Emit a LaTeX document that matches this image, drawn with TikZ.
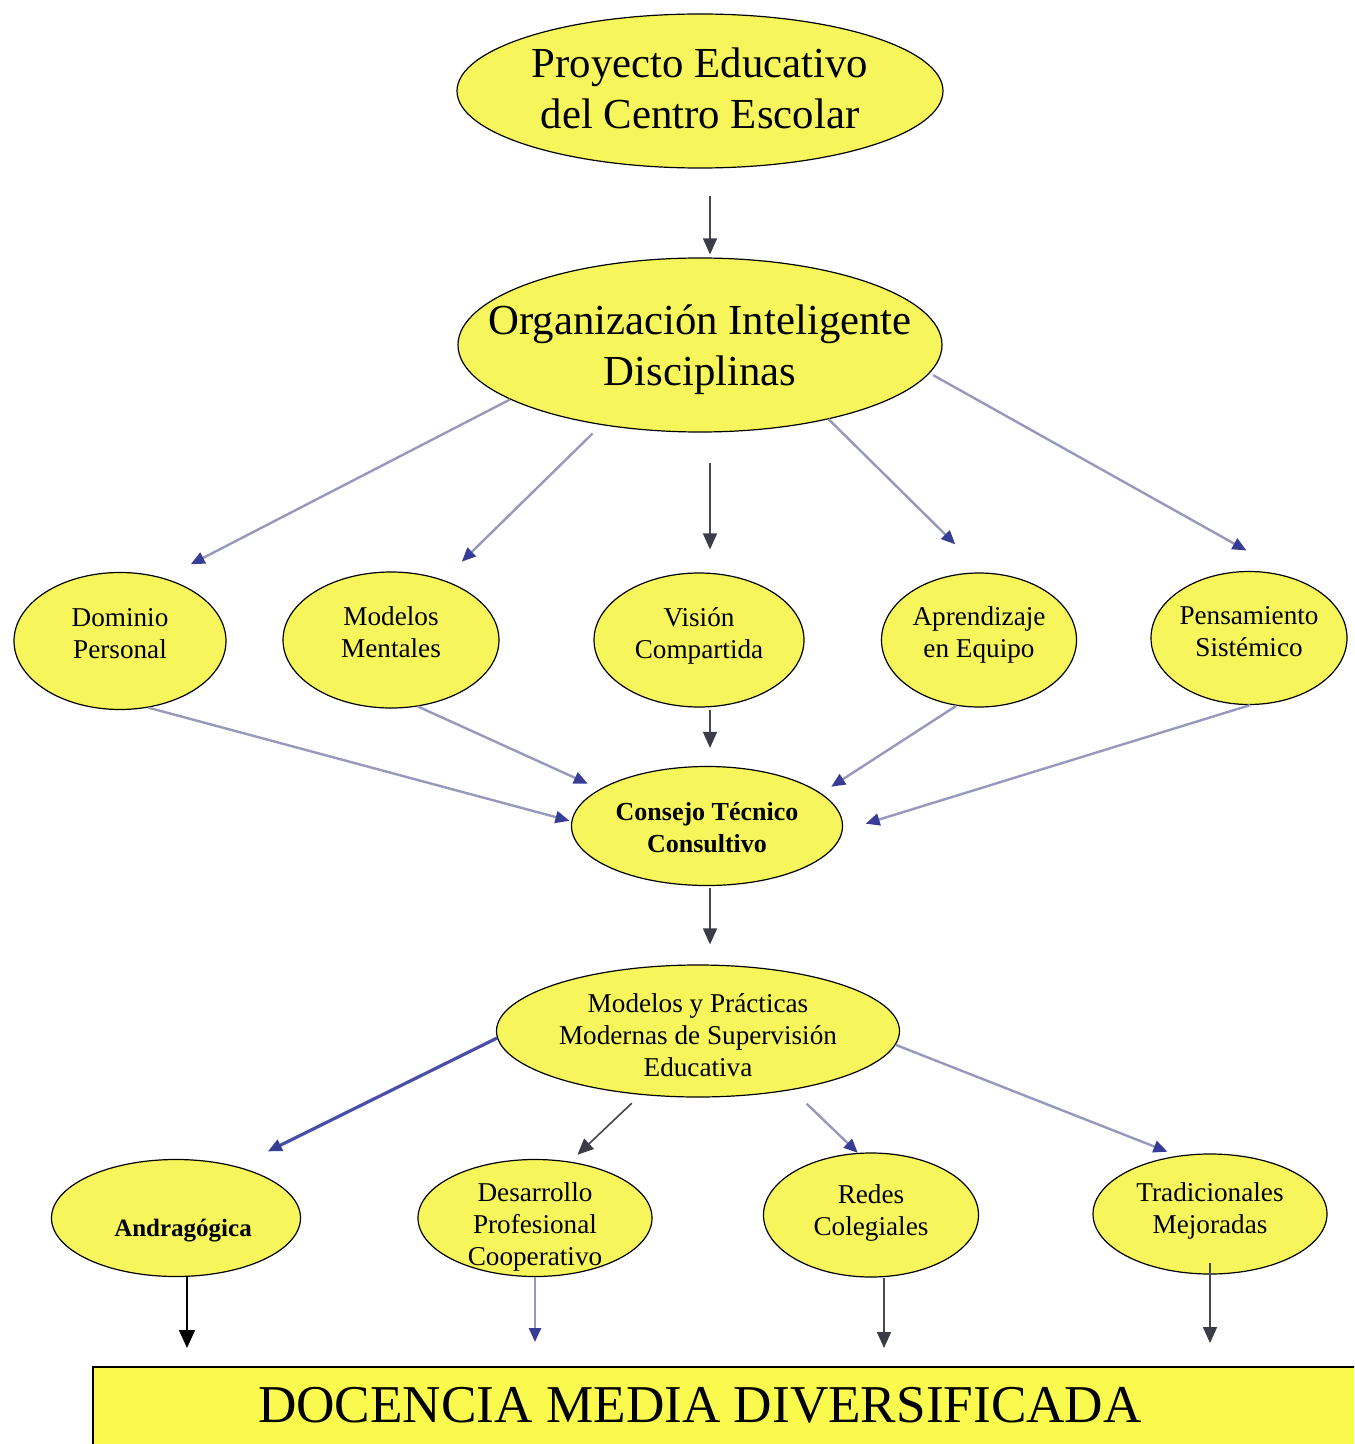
\documentclass[tikz,border=0pt]{standalone}
\usepackage{fontspec}
\setmainfont{Liberation Serif}
\usepackage{tikz}
\usetikzlibrary{calc,shapes.geometric,arrows.meta}
\definecolor{nodeyellow}{RGB}{246,246,92}
\definecolor{boxyellow}{RGB}{250,250,78}
\definecolor{linkgray}{RGB}{150,152,188}
\definecolor{headblue}{RGB}{55,60,150}
\definecolor{strongblue}{RGB}{72,78,170}
\definecolor{darkline}{RGB}{70,70,80}
\definecolor{darkhead}{RGB}{58,60,72}
% text of an ellipse, kept out of the shape size
\newcommand{\elltext}[2][0pt]{\smash{\makebox[0pt]{\raisebox{#1}{\begin{tabular}{@{}c@{}}#2\end{tabular}}}}}
\tikzset{
% yellow ellipse for every concept
ell/.style={ellipse,draw=black,line width=0.6pt,fill=nodeyellow,inner sep=0pt},
big text/.style={font=\fontsize{21.4pt}{25.5pt}\selectfont},
mid text/.style={font=\fontsize{13.6pt}{16pt}\selectfont},
% connectors: pale line with blue tip, or dark line with dark tip
blue link/.style={draw=linkgray,line width=1.2pt,-{Triangle[length=7pt,width=6pt,color=headblue]}},
dark link/.style={draw=darkline,line width=0.8pt,-{Triangle[length=8pt,width=7pt,color=darkhead]}}
}

\begin{document}
\begin{tikzpicture}[x=0.5pt,y=-0.5pt]
      \useasboundingbox (0,0) rectangle (1354,1444);
      \clip (0,0) rectangle (1354,1444);
      % Top of the chart
      \node(proj)[ell,big text,minimum width=243pt,minimum height=77pt] at (700,91)
        {\elltext[-6pt]{Proyecto Educativo\\del Centro Escolar}};
      \node(org)[ell,big text,minimum width=242pt,minimum height=87pt] at (700,345)
        {\elltext[-7.5pt]{Organización Inteligente\\Disciplinas}};
      % The five disciplines
      \node(dom)[ell,mid text,minimum width=106pt,minimum height=68.5pt] at (120,641)
        {\elltext[-1pt]{Dominio\\Personal}};
      \node(mod)[ell,mid text,minimum width=108pt,minimum height=68pt] at (391,640)
        {\elltext[-1pt]{Modelos\\Mentales}};
      \node(vis)[ell,mid text,minimum width=105pt,minimum height=67pt] at (699,640)
        {\elltext[-1.5pt]{Visión\\Compartida}};
      \node(apr)[ell,mid text,minimum width=97.5pt,minimum height=67pt] at (979,640)
        {\elltext[-1pt]{Aprendizaje\\en Equipo}};
      \node(pen)[ell,mid text,minimum width=98pt,minimum height=66.5pt] at (1249,638)
        {\elltext[-1.5pt]{Pensamiento\\Sistémico}};
      % Council and supervision
      \node(con)[ell,mid text,minimum width=135.5pt,minimum height=59.5pt] at (707,826)
        {\elltext[-5.5pt]{\bfseries\fontsize{13pt}{15.5pt}\selectfont Consejo Técnico\\
          \bfseries\fontsize{13pt}{15.5pt}\selectfont Consultivo}};
      \node(mp)[ell,mid text,minimum width=201.5pt,minimum height=66pt] at (698,1031)
        {\elltext[-7pt]{Modelos y Prácticas\\Modernas de Supervisión\\Educativa}};
      % The four models
      \node(andr)[ell,mid text,minimum width=124.5pt,minimum height=58.5pt] at (176,1218)
        {\elltext[-9.5pt]{\hspace*{7pt}\bfseries\fontsize{12.5pt}{15pt}\selectfont Andragógica}};
      \node(des)[ell,mid text,minimum width=117pt,minimum height=58.5pt] at (535,1218)
        {\elltext[-8pt]{Desarrollo\\Profesional\\Cooperativo}};
      \node(red)[ell,mid text,minimum width=107.5pt,minimum height=62pt] at (871,1215)
        {\elltext[-2.5pt]{Redes\\Colegiales}};
      \node(tra)[ell,mid text,minimum width=117pt,minimum height=60pt] at (1210,1214)
        {\elltext[-2pt]{Tradicionales\\Mejoradas}};
      % Bottom band
      \node(doc)[draw=black,line width=0.8pt,fill=boxyellow,anchor=north west,
        minimum width=650pt,minimum height=45pt] at (92,1366) {};
      \node(doctext)[font=\fontsize{26.6pt}{30pt}\selectfont,anchor=base] at (700,1422)
        {DOCENCIA MEDIA DIVERSIFICADA};
      % Connectors
      \draw[dark link,shorten <=13.5pt,shorten >=1.5pt] ([xshift=5pt]proj.south) -- ([xshift=5pt]org.north);
      \draw[blue link,shorten >=15pt] (org.196) -- (dom.55);
      \draw[blue link,shorten <=6pt,shorten >=13pt] (org.219) -- (mod.49);
      \draw[dark link,shorten <=15pt,shorten >=11.5pt] ([xshift=5pt]org.south) -- ([xshift=5.5pt]vis.north);
      \draw[blue link,shorten >=20pt] (org.330) -- (apr.86);
      \draw[blue link,shorten <=2pt,shorten >=31pt] (org.353) -- (pen.48);
      \draw[blue link,shorten >=1pt] (dom.293) -- (con.178);
      \draw[blue link,shorten >=6.5pt] (mod.292) -- (con.161);
      \draw[dark link,shorten <=1pt,shorten >=9pt] ([xshift=5.5pt]vis.south) -- ([xshift=1.5pt]con.north);
      \draw[blue link,shorten >=6pt] (apr.251) -- (con.16);
      \draw[blue link,shorten >=12pt] (pen.271) -- (con.358);
      \draw[dark link,shorten <=1pt,shorten >=10pt] ([xshift=1.5pt]con.south) -- ([xshift=6pt]mp.north);
      \draw[blue link,draw=strongblue,line width=1.6pt,shorten >=17pt] (mp.182) -- (andr.40);
      \draw[dark link,shorten <=6pt,shorten >=5pt] (mp.228) -- (des.58);
      \draw[blue link,shorten <=10pt] (mp.328) -- (red.102);
      \draw[blue link,shorten >=5.5pt] (mp.356) -- (tra.119);
      \draw[dark link,draw=black,-{Triangle[length=9pt,width=8pt,color=black]},shorten >=9pt]
        ($(andr.south)+(11,0)$) -- ($(andr.south |- doc.north)+(11,0)$);
      \draw[blue link,shorten >=12pt] (des.south) -- (des.south |- doc.north);
      \draw[dark link,shorten >=9pt] ($(red.south)+(13,0)$) -- ($(red.south |- doc.north)+(13,0)$);
      \draw[dark link,shorten <=-6pt,shorten >=11.5pt] (tra.south) -- (tra.south |- doc.north);
\end{tikzpicture}
\end{document}
